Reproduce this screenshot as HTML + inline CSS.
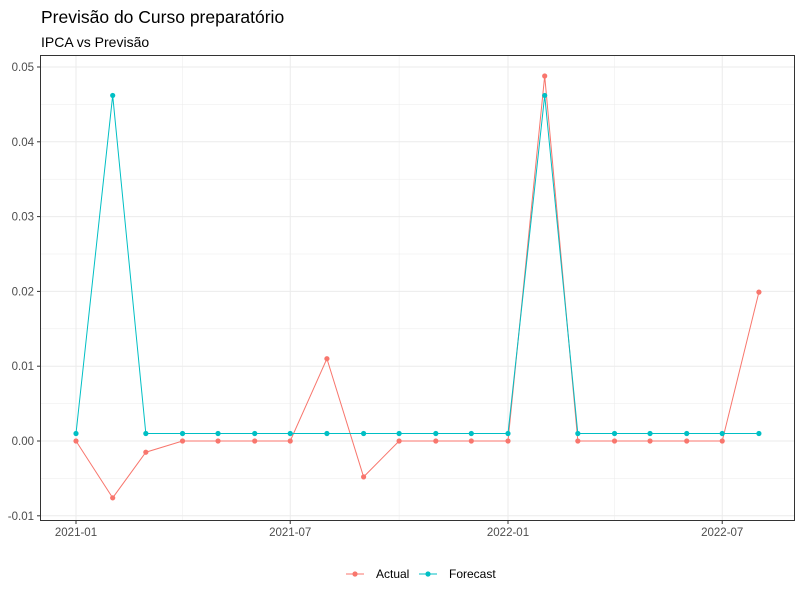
<!DOCTYPE html>
<html><head><meta charset="utf-8"><style>
body{margin:0;background:#fff;font-family:"Liberation Sans",Arial,sans-serif}
svg text{font-family:"Liberation Sans",Arial,sans-serif}
</style></head><body>
<svg id="chart" width="800" height="600" xmlns="http://www.w3.org/2000/svg">
<text x="41" y="23" font-size="17.5" fill="#000">Previsão do Curso preparatório</text>
<text x="41" y="47" font-size="14" fill="#000">IPCA vs Previsão</text>
<g id="grid"></g>
<g id="marks"></g>
<rect x="40.5" y="55.5" width="754" height="465" fill="none" stroke="#333" stroke-width="1"/>
<g id="axes"></g>
<g>
<g>
<line x1="346" y1="574" x2="364" y2="574" stroke="#F8766D"/><circle cx="355" cy="574" r="2.6" fill="#F8766D"/>
<text x="376" y="578" font-size="12" fill="#000">Actual</text></g>
<g>
<line x1="419" y1="574" x2="437" y2="574" stroke="#00BFC4"/><circle cx="428" cy="574" r="2.6" fill="#00BFC4"/>
<text x="449" y="578" font-size="12" fill="#000">Forecast</text></g>
</g>
</svg>
<script>
const dates=["2021-01","2021-02","2021-03","2021-04","2021-05","2021-06","2021-07","2021-08","2021-09","2021-10","2021-11","2021-12","2022-01","2022-02","2022-03","2022-04","2022-05","2022-06","2022-07","2022-08"];
const actual=[0,-0.0076,-0.0015,0,0,0,0,0.011,-0.0048,0,0,0,0,0.0488,0,0,0,0,0,0.0199];
const forecast=[0.001,0.0462,0.001,0.001,0.001,0.001,0.001,0.001,0.001,0.001,0.001,0.001,0.001,0.0462,0.001,0.001,0.001,0.001,0.001,0.001];
const yTicks=[-0.01,0,0.01,0.02,0.03,0.04,0.05];
const yLabels=["-0.01","0.00","0.01","0.02","0.03","0.04","0.05"];
const xTicks=["2021-01","2021-07","2022-01","2022-07"];
const NS="http://www.w3.org/2000/svg";
const t0=Date.UTC(2021,0,1);
function days(s){const [y,m]=s.split("-").map(Number);return (Date.UTC(y,m-1,1)-t0)/864e5;}
const X=d=>76+days(d)*(432/365);
const Y=v=>441-v*7480;
function mk(tag,attrs,parent){const e=document.createElementNS(NS,tag);for(const k in attrs)e.setAttribute(k,attrs[k]);parent.appendChild(e);return e;}
const grid=document.getElementById('grid'),axes=document.getElementById('axes'),marks=document.getElementById('marks');
mk('rect',{x:40,y:55,width:755,height:466,fill:'#fff'},grid);
for(let i=0;i<yTicks.length-1;i++){const v=(yTicks[i]+yTicks[i+1])/2;const l=mk('line',{x1:40,x2:795,y1:Y(v),y2:Y(v),stroke:'#ebebeb','stroke-width':0.5},grid);}
["2021-04","2021-10","2022-04"].forEach(d=>{const l=mk('line',{x1:X(d),x2:X(d),y1:55,y2:521,stroke:'#ebebeb','stroke-width':0.5},grid);});
yTicks.forEach((v,i)=>{const y=Y(v);
const g=mk('line',{x1:40,x2:795,y1:y,y2:y,stroke:'#ebebeb','stroke-width':1},grid);
mk('line',{x1:37,x2:40,y1:y,y2:y,stroke:'#333'},axes);
const t=mk('text',{x:34,y:y+4,'text-anchor':'end','font-size':'11.5',fill:'#4d4d4d'},axes);t.textContent=yLabels[i];});
xTicks.forEach(d=>{const x=X(d);
const g=mk('line',{x1:x,x2:x,y1:55,y2:521,stroke:'#ebebeb','stroke-width':1},grid);
mk('line',{x1:x,x2:x,y1:521,y2:524,stroke:'#333'},axes);
const t=mk('text',{x:x,y:536,'text-anchor':'middle','font-size':'11.5',fill:'#4d4d4d'},axes);t.textContent=d;});
function series(vals,color,name){
const p=mk('polyline',{points:vals.map((v,i)=>X(dates[i])+","+Y(v)).join(" "),fill:'none',stroke:color,'stroke-width':1},marks);

vals.forEach((v,i)=>{const c=mk('circle',{cx:X(dates[i]),cy:Y(v),r:2.6,fill:color},marks);});}
series(actual,'#F8766D','actual');
series(forecast,'#00BFC4','forecast');
</script>
</body></html>
